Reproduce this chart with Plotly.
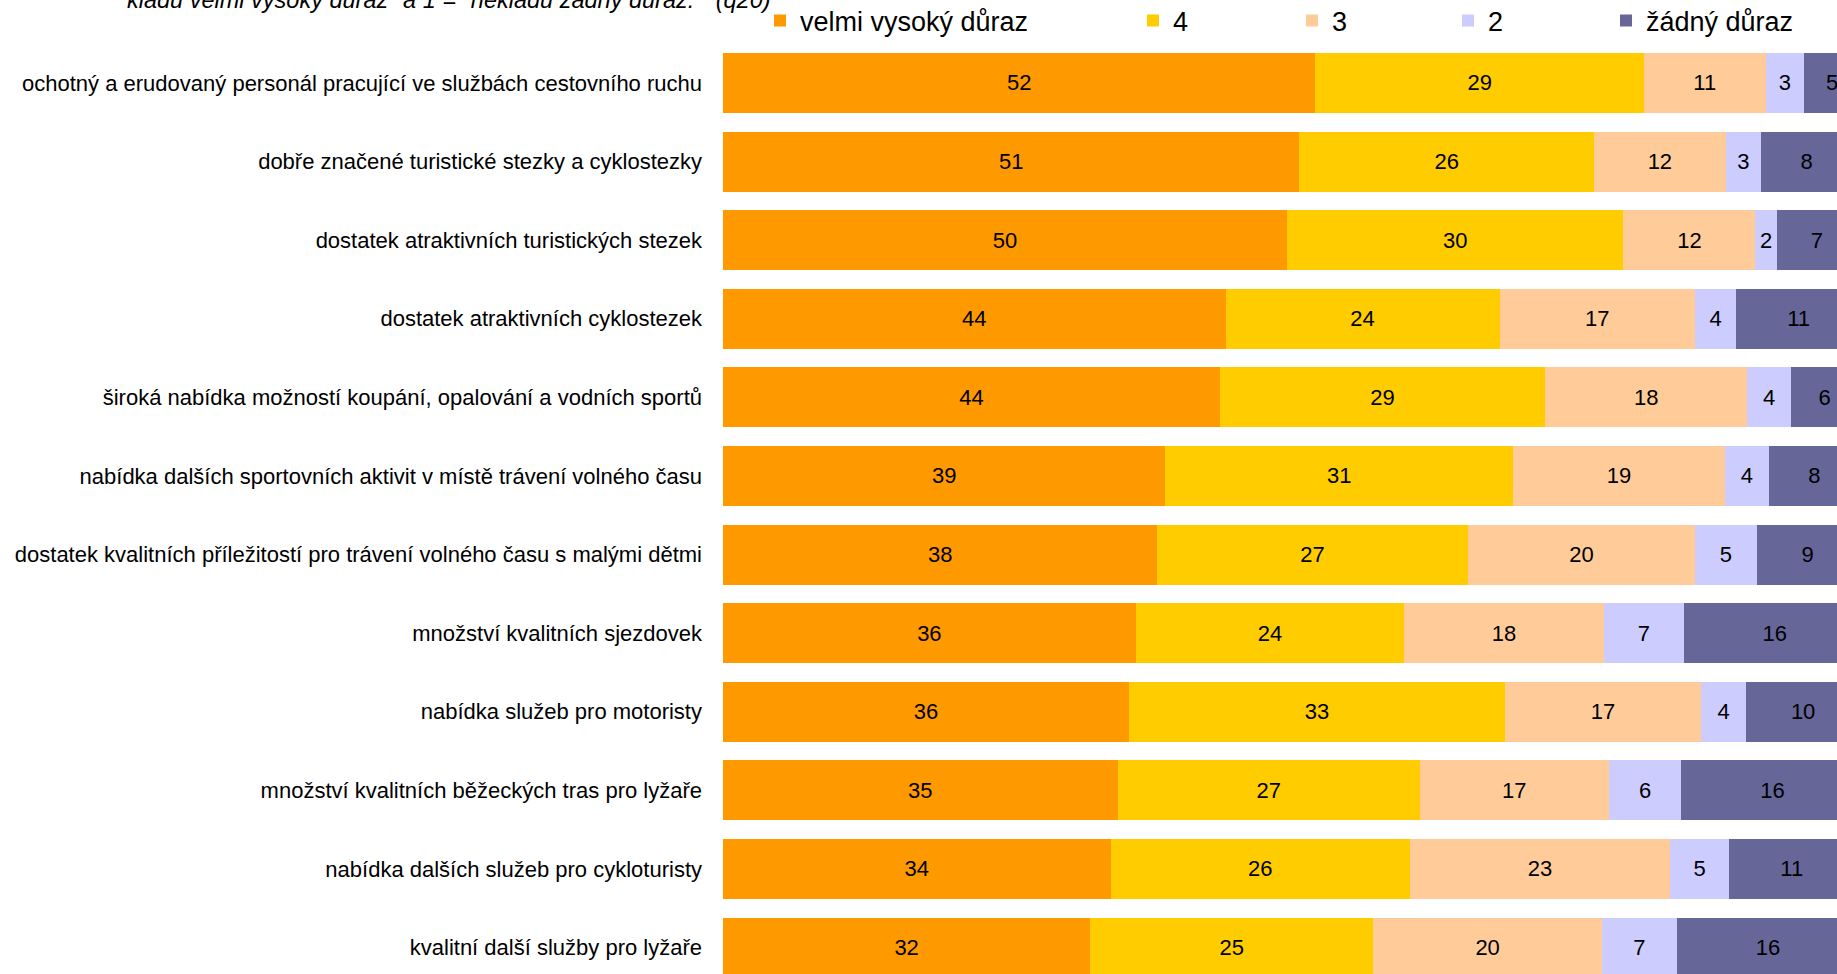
import plotly.graph_objects as go

categories = [
    "ochotný a erudovaný personál pracující ve službách cestovního ruchu",
    "dobře značené turistické stezky a cyklostezky",
    "dostatek atraktivních turistických stezek",
    "dostatek atraktivních cyklostezek",
    "široká nabídka možností koupání, opalování a vodních sportů",
    "nabídka dalších sportovních aktivit v místě trávení volného času",
    "dostatek kvalitních příležitostí pro trávení volného času s malými dětmi",
    "množství kvalitních sjezdovek",
    "nabídka služeb pro motoristy",
    "množství kvalitních běžeckých tras pro lyžaře",
    "nabídka dalších služeb pro cykloturisty",
    "kvalitní další služby pro lyžaře",
]

series_names = ["velmi vysoký důraz", "4", "3", "2", "žádný důraz"]

velmi_vysoky = [52.1, 50.7, 49.6, 44.2, 43.7, 38.9, 38.2, 36.3, 35.7, 34.7, 34.1, 32.3]
hodnota_4 = [28.9, 25.9, 29.6, 24.1, 28.6, 30.6, 27.3, 23.6, 33.1, 26.6, 26.3, 24.9]
hodnota_3 = [10.7, 11.6, 11.6, 17.2, 17.8, 18.6, 20.0, 17.6, 17.2, 16.6, 22.9, 20.1]
hodnota_2 = [3.4, 3.1, 1.9, 3.6, 3.8, 3.9, 5.4, 7.0, 4.0, 6.4, 5.2, 6.6]
zadny = [4.9, 8.0, 7.0, 11.0, 6.0, 8.0, 9.0, 16.0, 10.0, 16.0, 11.0, 16.0]

title_text = 'kladu velmi vysoký důraz" a 1 = "nekladu žádný důraz."  (q20)'

series_values = [velmi_vysoky, hodnota_4, hodnota_3, hodnota_2, zadny]
colors = ["#FF9900", "#FFCC00", "#FFCC99", "#CCCCFF", "#666699"]

FONT = "Liberation Sans, Arial, sans-serif"

W, H = 1837, 974
ML, MR, MT, MB = 723, 0, 44, 0
PW = W - ML - MR
PH = H - MT - MB

# legend text start positions (px) in the reference
legend_text_px = [800, 1173, 1332, 1488, 1646]

fig = go.Figure()
for i, (name, vals, col) in enumerate(zip(series_names, series_values, colors)):
    lg = "legend" if i == 0 else f"legend{i+1}"
    fig.add_trace(go.Bar(
        y=categories, x=vals, name=name, orientation="h",
        marker=dict(color=col, line=dict(width=0)),
        texttemplate="%{x:.0f}", textposition="inside",
        insidetextanchor="middle", textangle=0,
        textfont=dict(family=FONT, size=22, color="black"),
        legend=lg,
    ))

legends = {}
for i, tx in enumerate(legend_text_px):
    key = "legend" if i == 0 else f"legend{i+1}"
    legends[key] = dict(
        x=(tx - 40 - ML) / PW, y=1 + (MT - 21) / PH,
        xanchor="left", yanchor="middle",
        xref="paper", yref="paper",
        orientation="h", bgcolor="rgba(0,0,0,0)",
        font=dict(family=FONT, size=27, color="black"),
        itemwidth=30, tracegroupgap=0,
    )

fig.update_layout(
    width=W, height=H,
    margin=dict(l=ML, r=MR, t=MT, b=MB, pad=0, autoexpand=False),
    barmode="stack", bargap=0.237,
    plot_bgcolor="white", paper_bgcolor="white",
    uniformtext=dict(minsize=22, mode="show"),
    xaxis=dict(range=[0, 97.98], showgrid=False, showticklabels=False,
               zeroline=False, showline=False, ticks="", automargin=False),
    yaxis=dict(range=[11.336, -0.496], showgrid=False, zeroline=False,
               showline=False, ticks="", ticklabelstandoff=20, automargin=False,
               tickfont=dict(family=FONT, size=22, color="black")),
    showlegend=True,
    **legends,
)

fig.add_annotation(
    text=title_text, xref="paper", yref="paper",
    x=(125 - ML) / PW, y=1 + (MT - 15) / PH, xanchor="left", yanchor="bottom",
    showarrow=False,
    font=dict(family=FONT, size=23.5, color="black", style="italic"),
)

fig.write_html(
    "out.html",
    config={"displayModeBar": False},
    post_script="document.body.style.margin='0';document.body.style.overflow='hidden';",
)
